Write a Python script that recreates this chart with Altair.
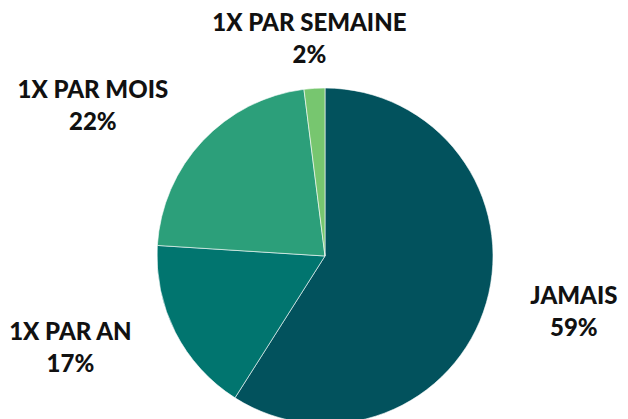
import altair as alt
import pandas as pd

categories = ["JAMAIS", "1X PAR AN", "1X PAR MOIS", "1X PAR SEMAINE"]
values = [59, 17, 22, 2]
order = [0, 1, 2, 3]
colors = ["#02525D", "#01756F", "#2C9F7A", "#77C66F"]

df = pd.DataFrame({"cat": categories, "val": values, "ord": order})

# label placement style: radius from the pie centre plus small offsets
label_style = {
    "JAMAIS": dict(radius=255, dx=4, dy=-30),
    "1X PAR AN": dict(radius=270, dx=-14, dy=-46),
    "1X PAR MOIS": dict(radius=276, dx=-31, dy=24),
    "1X PAR SEMAINE": dict(radius=217, dx=-2, dy=-15),
}

base = alt.Chart(df).encode(
    theta=alt.Theta("val:Q", stack=True),
    order=alt.Order("ord:Q"),
)

pie = base.mark_arc(radius=168, stroke="white", strokeWidth=0.6).encode(
    color=alt.Color("cat:N", scale=alt.Scale(domain=categories, range=colors), legend=None)
)

layers = [pie]
for c in categories:
    s = label_style[c]
    t = base.mark_text(
        radius=s["radius"],
        dx=s["dx"],
        dy=s["dy"],
        font="Lato",
        fontWeight=900,
        fontSize=24,
        lineHeight=32,
        lineBreak="\n",
        color="#111111",
        align="center",
        baseline="middle",
    ).transform_calculate(
        lbl="datum.cat + '\\n' + datum.val + '%'"
    ).encode(
        text="lbl:N",
        opacity=alt.condition(alt.datum.cat == c, alt.value(1), alt.value(0)),
    )
    layers.append(t)

chart = alt.layer(*layers).properties(
    width=606,
    height=326,
    padding={"left": 22, "top": 93, "right": 0, "bottom": 0},
    autosize=alt.AutoSizeParams(type="none"),
    background="white",
).configure_view(stroke=None)

chart.save("out.html", embed_options={"renderer": "svg", "actions": False})
